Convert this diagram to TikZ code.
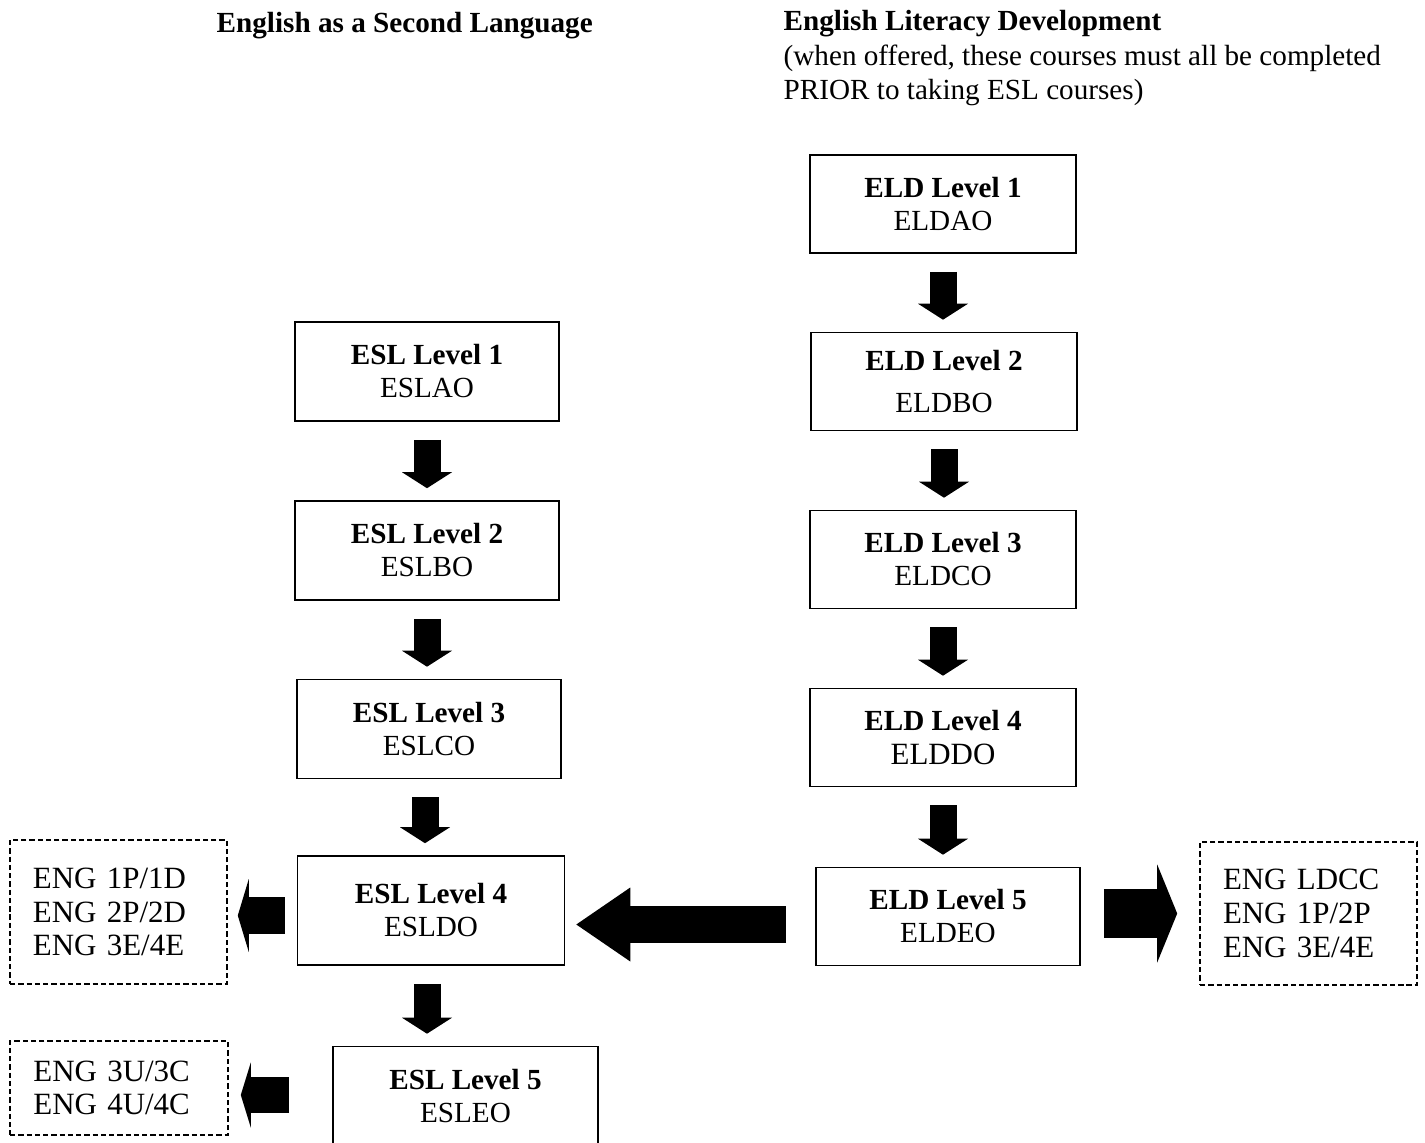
\documentclass[tikz,border=0pt]{standalone}
\usepackage{fontspec}
\setmainfont{Liberation Serif}
\usetikzlibrary{arrows.meta}

\begin{document}
\begin{tikzpicture}[every node/.style={inner sep=0pt},
  course/.style={draw, line width=0.45pt, minimum width=2.64cm, minimum height=0.99cm, align=center, font=\fontsize{8.3}{9.4}\selectfont},
  engbox/.style={draw, line width=0.45pt, dash pattern=on 1.5pt off 0.85pt, minimum width=2.17cm, text width=1.71cm, align=left, font=\fontsize{8.8}{9.6}\selectfont},
  downarrow/.style={line width=0.27cm, -{Triangle[width=0.5cm, length=0.16cm, line width=0pt]}, shorten <=0.18cm, shorten >=0.12cm}]
\useasboundingbox (0,0) rectangle (14.25,-11.43);

\coordinate (ESLtop) at (4.27,-3.715);
\coordinate (ELDtop) at (9.43,-2.04);
\coordinate (bigY) at (0,-9.245);
\coordinate (leftY) at (0,-9.155);
\coordinate (lowY) at (0,-10.95);
\coordinate (rightY) at (0,-9.135);

% headings
\node[anchor=base west, font=\fontsize{8.3}{9.7}\selectfont\bfseries] (eslhead) at (2.16,-0.32) {English as a Second Language};
\node[anchor=north west, align=left, font=\fontsize{8.3}{9.7}\selectfont] (eldhead) at (7.83,-0.1)
  {\textbf{English Literacy Development}\\(when offered, these courses must all be completed\\PRIOR to taking ESL courses)};

% ESL column
\begin{scope}[every node/.style={course}]
\node (esl1) at (ESLtop) {\textbf{ESL Level 1}\\ESLAO};
\node (esl2) at (4.27,-5.505) {\textbf{ESL Level 2}\\ESLBO};
\node (esl3) at (4.29,-7.29) {\textbf{ESL Level 3}\\ESLCO};
\node[minimum width=2.67cm, minimum height=1.09cm] (esl4) at (4.31,-9.105) {\textbf{ESL Level 4}\\ESLDO};
\node[minimum width=2.65cm] (esl5) at (4.655,-10.96) {\textbf{ESL Level 5}\\ESLEO};
\end{scope}

% ELD column
\begin{scope}[every node/.style={course, minimum width=2.66cm, minimum height=0.98cm}]
\node (eld1) at (ELDtop) {\textbf{ELD Level 1}\\ELDAO};
\node (eld2) at (9.44,-3.815) {\textbf{ELD Level 2}\\[2.6pt]ELDBO};
\node (eld3) at (9.43,-5.595) {\textbf{ELD Level 3}\\ELDCO};
\node (eld4) at (9.43,-7.375) {\textbf{ELD Level 4}\\[0.4pt]{\fontsize{8.8}{9.4}\selectfont ELDDO}};
\node[minimum width=2.64cm] (eld5) at (9.48,-9.165) {\textbf{ELD Level 5}\\ELDEO};
\end{scope}

% next courses
\node[engbox, minimum height=1.44cm] (eng1) at (1.185,-9.12) {ENG 1P/1D\\ENG 2P/2D\\ENG 3E/4E};
\node[engbox, minimum height=0.94cm, minimum width=2.18cm] (eng2) at (1.19,-10.88) {ENG 3U/3C\\ENG 4U/4C};
\node[engbox, minimum height=1.43cm] (eng3) at (13.085,-9.135) {ENG LDCC\\ENG 1P/2P\\ENG 3E/4E};

% down arrows
\draw[downarrow] (esl1) -- (esl2);
\draw[downarrow] (esl2.south) -- (esl2.south |- esl3.north);
\draw[downarrow] ([xshift=-0.04cm]esl3.south) -- ([xshift=-0.04cm]esl3.south |- esl4.north);
\draw[downarrow] ([xshift=-0.04cm]esl4.south) -- ([xshift=-0.04cm]esl4.south |- esl5.north);

\begin{scope}[xshift=0.06cm]
\draw[downarrow] (eld1.south) -- (eld1.south |- eld2.north);
\draw[downarrow] (eld2.south) -- (eld2.south |- eld3.north);
\draw[downarrow] (eld3.south) -- (eld4.north);
\draw[downarrow] (eld4.south) -- (eld4.south |- eld5.north);
\end{scope}

% side arrows
\draw[line width=0.37cm, -{Triangle[width=0.74cm, length=0.54cm, line width=0pt]}, shorten <=0.29cm, shorten >=0.11cm]
  (eld5.west |- bigY) -- (esl4.east |- bigY);
\draw[line width=0.37cm, -{Triangle[width=0.73cm, length=0.11cm, line width=0pt]}, shorten <=0.12cm, shorten >=0.10cm]
  (esl4.west |- leftY) -- (eng1.east |- leftY);
\draw[line width=0.36cm, -{Triangle[width=0.65cm, length=0.10cm, line width=0pt]}, shorten <=0.43cm, shorten >=0.12cm]
  (esl5.west |- lowY) -- (eng2.east |- lowY);
\draw[line width=0.49cm, -{Triangle[width=0.98cm, length=0.20cm, line width=0pt]}, shorten <=0.23cm, shorten >=0.22cm]
  (eld5.east |- rightY) -- (eng3.west |- rightY);

%\draw[dotted] (esl4) -- (eld5);

\end{tikzpicture}
\end{document}
